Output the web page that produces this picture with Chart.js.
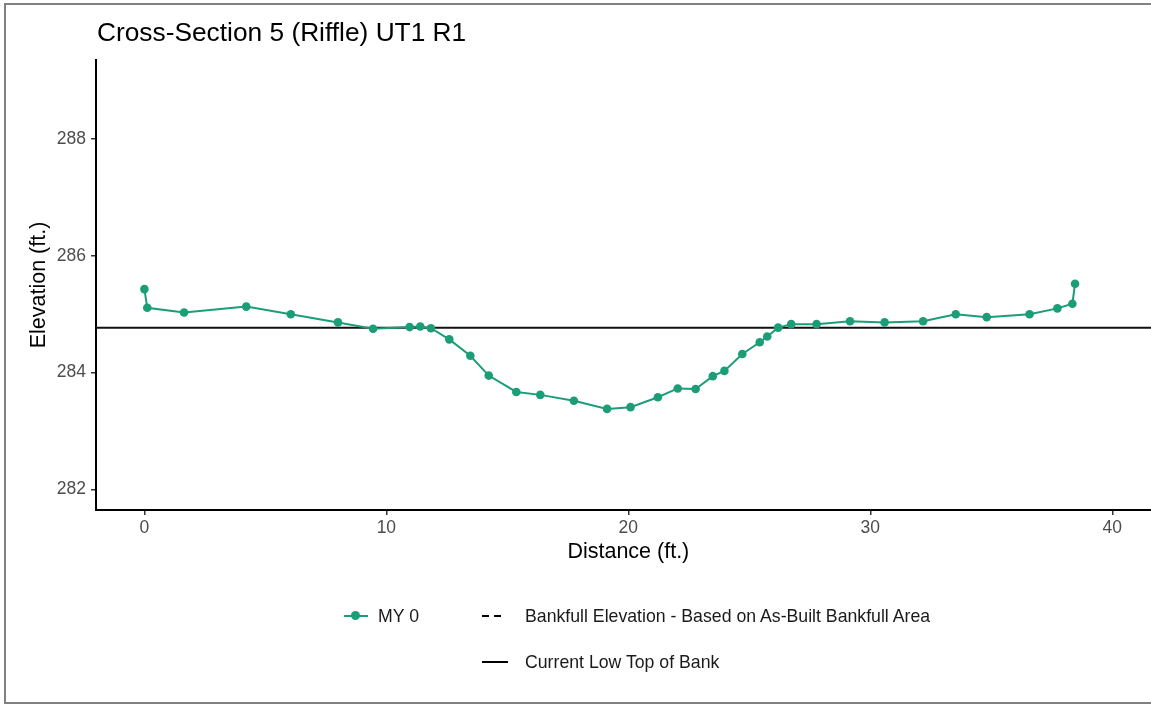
<!DOCTYPE html>
<html>
<head>
<meta charset="utf-8">
<script src="https://cdn.jsdelivr.net/npm/chart.js@4.4.1/dist/chart.umd.min.js"></script>
<style>
  html, body { margin:0; padding:0; width:1151px; height:704px; overflow:hidden; background:#fff; }
  body { position:relative; font-family:"Liberation Sans", Arial, Helvetica, sans-serif; }
  #frame { position:absolute; left:4px; top:3px; width:1200px; height:701px; border:2px solid #808080; box-sizing:border-box; }
  #wrap { position:absolute; left:0; top:0; width:1165px; height:704px; }
  #title { position:absolute; left:97px; top:17px; font-size:26.3px; color:#000; white-space:nowrap; }
  .lg { position:absolute; font-size:17.7px; color:#1a1a1a; white-space:nowrap; line-height:24px; }
  .key { position:absolute; }
</style>
</head>
<body>
<div id="frame"></div>
<div id="wrap"><canvas id="c" width="1165" height="704"></canvas></div>
<div id="title">Cross-Section 5 (Riffle) UT1 R1</div>
<div id="legend"></div>
<script>
// ---- data ----
const distance = [0.00, 0.12, 1.64, 4.21, 6.05, 8.00, 9.45, 10.96, 11.40, 11.84, 12.60, 13.47, 14.23, 15.37, 16.36, 17.75, 19.12, 20.09, 21.22, 22.04, 22.78, 23.49, 23.97, 24.71, 25.43, 25.74, 26.19, 26.73, 27.78, 29.16, 30.59, 32.18, 33.53, 34.81, 36.58, 37.73, 38.35, 38.46];
const elevation = [285.43, 285.11, 285.03, 285.13, 285.00, 284.86, 284.75, 284.78, 284.79, 284.76, 284.57, 284.29, 283.95, 283.67, 283.62, 283.52, 283.38, 283.41, 283.58, 283.73, 283.72, 283.94, 284.03, 284.32, 284.52, 284.62, 284.77, 284.83, 284.83, 284.88, 284.86, 284.88, 285.00, 284.95, 285.00, 285.10, 285.18, 285.52];
const lowTopOfBank = 284.77;
const xTicks = [0, 10, 20, 30, 40];
const yTicks = [282, 284, 286, 288];
const xLimits = [-2, 42];
const yLimits = [281.65, 289.35];
const seriesLabels = ['MY 0', 'Bankfull Elevation - Based on As-Built Bankfull Area', 'Current Low Top of Bank'];

const GREEN = '#1b9e77';
const FONT = '"Liberation Sans", Arial, Helvetica, sans-serif';

const myPoints = distance.map((d, i) => ({ x: d, y: elevation[i] }));
const bankLine = xLimits.map(x => ({ x: x, y: lowTopOfBank }));

new Chart(document.getElementById('c'), {
  type: 'scatter',
  data: {
    datasets: [
      { label: seriesLabels[0], data: myPoints, showLine: true, borderColor: GREEN, backgroundColor: GREEN,
        borderWidth: 2, pointRadius: 4.3, pointBorderWidth: 0, pointHoverRadius: 4.3, order: 1 },
      { label: seriesLabels[1], data: [], showLine: true, borderColor: '#000', borderDash: [6, 4], borderWidth: 2, pointRadius: 0 },
      { label: seriesLabels[2], data: bankLine, showLine: true, borderColor: '#111', backgroundColor: '#111',
        borderWidth: 2, pointRadius: 0, order: 2 }
    ]
  },
  options: {
    responsive: false,
    animation: false,
    layout: { padding: { left: 0, top: 60, right: 0, bottom: 138 } },
    plugins: { legend: { display: false }, title: { display: false }, tooltip: { enabled: false } },
    scales: {
      x: {
        type: 'linear', min: xLimits[0], max: xLimits[1],
        afterBuildTicks: s => { s.ticks = xTicks.map(v => ({ value: v })); },
        afterFit: s => { s.height = 56; },
        grid: { drawOnChartArea: false, drawTicks: true, tickLength: 5, color: '#333', lineWidth: 1.5 },
        border: { display: true, color: '#000', width: 2 },
        ticks: { color: '#4d4d4d', font: { family: FONT, size: 17.5 }, padding: 3, maxRotation: 0 },
        title: { display: true, text: 'Distance (ft.)', color: '#000', font: { family: FONT, size: 21.5 }, padding: { top: 0, bottom: 1 } }
      },
      y: {
        type: 'linear', min: yLimits[0], max: yLimits[1],
        afterBuildTicks: s => { s.ticks = yTicks.map(v => ({ value: v })); },
        afterFit: s => { s.width = 96; },
        grid: { drawOnChartArea: false, drawTicks: true, tickLength: 5, color: '#333', lineWidth: 1.5 },
        border: { display: true, color: '#000', width: 2 },
        ticks: { color: '#4d4d4d', font: { family: FONT, size: 17.5 }, padding: 5 },
        title: { display: true, text: 'Elevation (ft.)', color: '#000', font: { family: FONT, size: 21.5 }, padding: { top: 26, bottom: 0 } }
      }
    }
  }
});

// ---- HTML legend built from the series labels ----
const lg = document.getElementById('legend');
function add(html) { lg.insertAdjacentHTML('beforeend', html); }
// MY 0 key
add('<div class="key" style="left:344px;top:615px;width:24px;height:2px;background:' + GREEN + '"></div>');
add('<div class="key" style="left:351px;top:611px;width:9px;height:9px;border-radius:50%;background:' + GREEN + '"></div>');
add('<div class="lg" style="left:378px;top:604px">' + seriesLabels[0] + '</div>');
// Bankfull dashed key
add('<div class="key" style="left:482px;top:615px;width:7px;height:2px;background:#000"></div>');
add('<div class="key" style="left:494px;top:615px;width:7px;height:2px;background:#000"></div>');
add('<div class="lg" style="left:525px;top:604px">' + seriesLabels[1] + '</div>');
// Low top of bank key
add('<div class="key" style="left:482px;top:661px;width:26px;height:2px;background:#000"></div>');
add('<div class="lg" style="left:525px;top:650px">' + seriesLabels[2] + '</div>');
</script>
</body>
</html>
